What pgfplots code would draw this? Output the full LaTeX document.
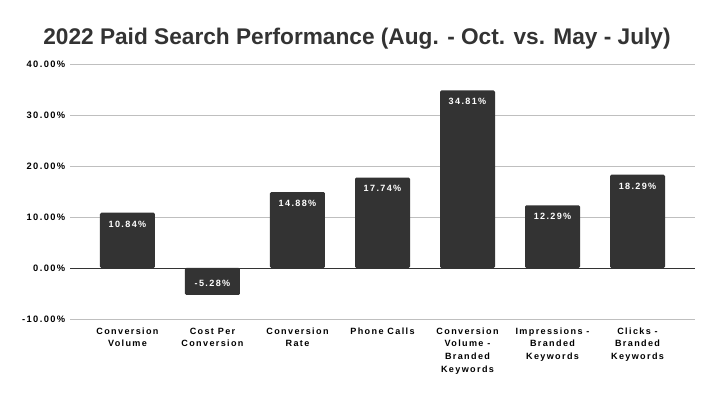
\documentclass[border=0pt]{standalone}
\usepackage{fontspec}
\setmainfont{Liberation Sans}
\newfontfamily\labfont{Liberation Sans}[LetterSpace=15]
\usepackage{pgfplots}
\pgfplotsset{compat=1.18}
\definecolor{bar}{HTML}{333333}
\definecolor{grid}{HTML}{CCCCCC}
\begin{document}
\begin{tikzpicture}
\path[use as bounding box] (0,0) rectangle (535.5pt,297pt);
\node[font=\bfseries\fontsize{17}{19}\selectfont, text=bar] at (267.75pt,268pt) {2022 Paid Search Performance (Aug. - Oct. vs. May - July)};
\begin{axis}[
  at={(52.5pt,57.75pt)}, anchor=south west,
  scale only axis, width=468.75pt, height=191.25pt,
  ymin=-10, ymax=40, ytick={-10,0,10,20,30,40},
  xmin=-0.676, xmax=6.676,
  xtick={0,...,6},
  xticklabels={{Conversion\\Volume},{Cost Per\\Conversion},{Conversion\\Rate},{Phone Calls},{Conversion\\Volume -\\Branded\\Keywords},{Impressions -\\Branded\\Keywords},{Clicks -\\Branded\\Keywords}},
  x tick label style={align=center, font=\labfont\bfseries\fontsize{6.8}{9.5}\selectfont, anchor=north, yshift=-3pt},
  y tick label style={font=\labfont\bfseries\fontsize{7}{8}\selectfont, /pgf/number format/assume math mode=true},
  yticklabel={\pgfmathprintnumber[fixed,precision=2,fixed zerofill]{\tick}\%},
  axis line style={draw=none},
  major tick length=0pt,
  xmajorgrids=false,
  ymajorgrids, grid style={grid, line width=0.6pt},
  extra y ticks={0}, extra y tick labels={},
  extra y tick style={xmajorgrids=false, ymajorgrids=true, grid style={bar, line width=0.6pt}},
  clip=false,
]
\addplot[ybar, bar width=41.25pt, fill=bar, draw=none, rounded corners=1pt, bar shift=0pt,
  nodes near coords={\pgfmathprintnumber[fixed,precision=2,fixed zerofill]{\pgfplotspointmeta}\%},
  nodes near coords style={font=\labfont\bfseries\fontsize{6.8}{8}\selectfont, text=white, anchor=north, yshift=-2.5pt, /pgf/number format/assume math mode=true}]
  coordinates {(0,10.84) (2,14.88) (3,17.74) (4,34.81) (5,12.29) (6,18.29)};
\addplot[ybar, bar width=41.25pt, fill=bar, draw=none, rounded corners=1pt, bar shift=0pt,
  nodes near coords={\pgfmathprintnumber[fixed,precision=2,fixed zerofill]{\pgfplotspointmeta}\%},
  nodes near coords style={font=\labfont\bfseries\fontsize{6.8}{8}\selectfont, text=white, anchor=south, yshift=2.5pt, /pgf/number format/assume math mode=true}]
  coordinates {(1,-5.28)};
\end{axis}
\end{tikzpicture}
\end{document}
